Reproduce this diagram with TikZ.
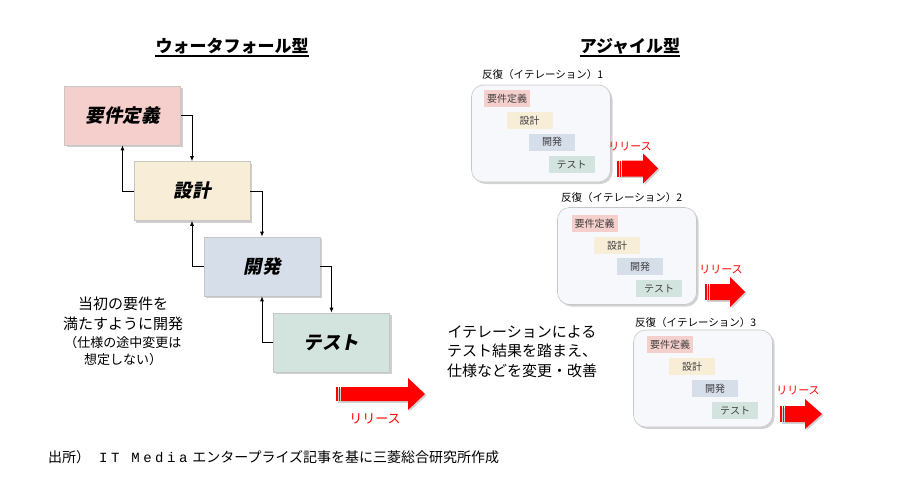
\documentclass[tikz,border=0pt]{standalone}
\usepackage{fontspec}
\newfontfamily\jp{Noto Sans CJK JP}
\newfontfamily\jpsl[FakeSlant=0.2]{Noto Sans CJK JP}
\newfontfamily\capmono[LetterSpace=25]{Liberation Mono}
\usetikzlibrary{arrows.meta,shadows}
\definecolor{cpink}{HTML}{F5CFCC}
\definecolor{ccream}{HTML}{F8EDD6}
\definecolor{cblue}{HTML}{D6DEEA}
\definecolor{cgreen}{HTML}{D2E4DD}
\definecolor{citer}{HTML}{F6F8FB}
\definecolor{cinner}{HTML}{404040}
\newcommand{\RelArrow}[6]{%
  \begin{scope}[shift={(1.5,1.5)},opacity=.18]
    \fill[black] (#1,#2-#4) rectangle (#1+#3-#6,#2+#4);
    \fill[black] (#1+#3-#6,#2-#5) -- (#1+#3,#2) -- (#1+#3-#6,#2+#5) -- cycle;
  \end{scope}
  \fill[red] (#1,#2-#4) rectangle (#1+1.5,#2+#4);
  \fill[red] (#1+2.5,#2-#4) rectangle (#1+4,#2+#4);
  \fill[red] (#1+5,#2-#4) -- (#1+#3-#6,#2-#4) -- (#1+#3-#6,#2-#5) -- (#1+#3,#2)
     -- (#1+#3-#6,#2+#5) -- (#1+#3-#6,#2+#4) -- (#1+5,#2+#4) -- cycle;
}
\begin{document}
\begin{tikzpicture}[x=1pt,y=-1pt,
  wbox/.style={draw=black!22, line width=0.6pt, minimum width=116pt, minimum height=59pt,
    inner sep=0pt, font=\jpsl\bfseries\fontsize{18.5}{22}\selectfont,
    drop shadow={shadow xshift=2pt, shadow yshift=-2pt, opacity=.35, fill=black!55}},
  conn/.style={line width=0.8pt, -{Latex[length=5pt,width=4pt]}},
  title/.style={inner sep=0pt, font=\jp\bfseries\fontsize{17}{20}\selectfont},
  iterbox/.style={draw=black!22, line width=0.6pt, fill=citer, rounded corners=12pt,
    minimum width=139pt, minimum height=97pt, inner sep=0pt,
    drop shadow={shadow xshift=2pt, shadow yshift=-2pt, opacity=.35, fill=black!50}},
  ibox/.style={minimum width=46pt, minimum height=17pt, inner sep=0pt,
    font=\jp\fontsize{10}{12}\selectfont, text=cinner},
  iterlabel/.style={anchor=west, inner sep=0pt, font=\jp\fontsize{10.5}{13}\selectfont},
  rel/.style={inner sep=0pt, text=red, font=\jp\fontsize{11}{13}\selectfont},
]
\useasboundingbox (0,0) rectangle (900,482);

% titles
\node[title] (t1) at (232,46) {ウォータフォール型};
\node[title] (t2) at (630,46) {アジャイル型};
\coordinate (u1) at (0,56);
\draw[line width=1.1pt] (t1.west |- u1) -- (t1.east |- u1);
\draw[line width=1.1pt] (t2.west |- u1) -- (t2.east |- u1);

% waterfall
\node[wbox, fill=cpink]  (A) at (122.5,115.5) {要件定義};
\node[wbox, fill=ccream] (B) at (192,191)     {設計};
\node[wbox, fill=cblue]  (C) at (262,266.5)   {開発};
\node[wbox, fill=cgreen] (D) at (331.5,342.5) {テスト};

\draw[conn] (A.east) -| (B.north);
\draw[conn] (B.west) -| (A.south);
\draw[conn] (B.east) -| (C.north);
\draw[conn] (C.west) -| (B.south);
\draw[conn] (C.east) -| (D.north);
\draw[conn] (D.west) -| (C.south);

\RelArrow{336}{394}{89}{7}{16}{17}
\node[rel, font=\jp\fontsize{13}{15}\selectfont] (r0) at (375,419) {リリース};

\node[align=center, inner sep=0pt, font=\jp\fontsize{15}{20}\selectfont] (note1) at (123,331)
  {当初の要件を\\満たすように開発\\[-2pt]{\fontsize{13}{16}\selectfont （仕様の途中変更は}\\[-3pt]{\fontsize{13}{16}\selectfont 想定しない）}};

\node[align=center, inner sep=0pt, font=\jp\fontsize{15}{19.5}\selectfont] (note2) at (522,351.5)
  {イテレーションによる\\テスト結果を踏まえ、\\仕様などを変更・改善};

% iteration 1
\node[iterlabel] (l1) at (482,75) {反復（イテレーション）1};
\node[iterbox] (I1) at (541,133.5) {};
\node[ibox, fill=cpink]  (I1a) at (507,98.5)   {要件定義};
\node[ibox, fill=ccream] (I1b) at (529.5,120.5) {設計};
\node[ibox, fill=cblue]  (I1c) at (552,142)    {開発};
\node[ibox, fill=cgreen] (I1d) at (571.5,164.5) {テスト};
\RelArrow{617}{168.5}{41}{8}{15}{15}
\node[rel] (r1) at (630,147) {リリース};

% iteration 2
\node[iterlabel] (l2) at (561,198) {反復（イテレーション）2};
\node[iterbox] (I2) at (627,256) {};
\node[ibox, fill=cpink]  (I2a) at (594.5,223.5) {要件定義};
\node[ibox, fill=ccream] (I2b) at (617,245.5)   {設計};
\node[ibox, fill=cblue]  (I2c) at (640,266.5)   {開発};
\node[ibox, fill=cgreen] (I2d) at (659,288.5)   {テスト};
\RelArrow{705}{292}{40}{8}{15}{15}
\node[rel] (r2) at (721,270) {リリース};

% iteration 3
\node[iterlabel] (l3) at (635,323) {反復（イテレーション）3};
\node[iterbox] (I3) at (703,378.5) {};
\node[ibox, fill=cpink]  (I3a) at (670,344.5) {要件定義};
\node[ibox, fill=ccream] (I3b) at (692,366.5) {設計};
\node[ibox, fill=cblue]  (I3c) at (715,388.5) {開発};
\node[ibox, fill=cgreen] (I3d) at (735,410.5) {テスト};
\RelArrow{780}{414}{42}{8}{15}{17}
\node[rel] (r3) at (798,391) {リリース};

% caption
\node[anchor=west, inner sep=0pt, font=\jp\fontsize{14}{16}\selectfont] (cap) at (48,457)
  {出所）\hspace{9pt}{\capmono IT Media}\hspace{5pt}エンタープライズ記事を基に三菱総合研究所作成};
\end{tikzpicture}
\end{document}
